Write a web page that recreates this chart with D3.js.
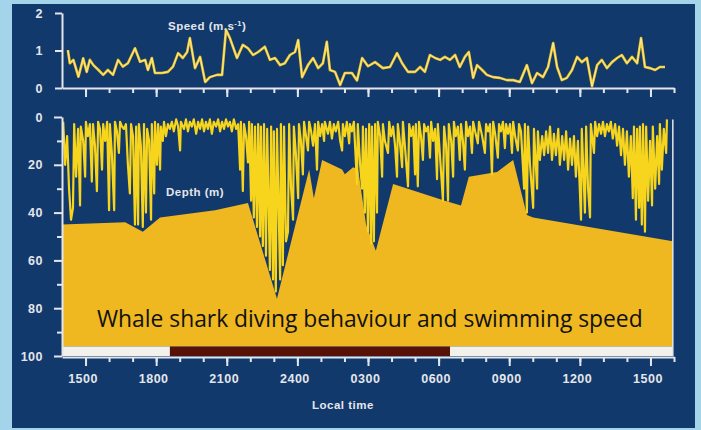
<!DOCTYPE html>
<html lang="en">

<head>
    <meta charset="UTF-8">
    <title>Whale shark diving behaviour and swimming speed</title>
    <style>
        body {
            margin: 0;
            background: #a4d4e9;
        }

        .axis path,
        .axis line {
            stroke-width: 2;
        }

        .lbl {
            font-family: "Liberation Sans", Arial, sans-serif;
            font-weight: bold;
            font-size: 11.5px;
            letter-spacing: 0.5px;
            fill: #e4e6ec;
        }
    </style>
</head>

<body>
    <svg width="701" height="430" id="svg"></svg>
    <script src="https://cdn.jsdelivr.net/npm/d3@7"></script>
    <script>
        // time is kept in minutes after 14:00 on the first day

        const hourLabels = ["1500", "1800", "2100", "2400", "0300", "0600", "0900", "1200", "1500"]
        const labelMinutes = [60, 240, 420, 600, 780, 960, 1140, 1320, 1500]
        const speedTicks = [0, 1, 2]
        const depthTicks = [0, 20, 40, 60, 80, 100]
        const depthMinor = [10, 30, 50, 70, 90]
        const night = [275, 989]   // dark bar, ~18:35 to ~06:30
        const recordEnd = 1557

        // swimming speed, [minute, m/s]
        const speed = [
            [15, 1.01], [20, 0.66], [29, 0.75], [42, 0.30], [54, 0.79], [63, 0.43], [71, 0.75], [80, 0.61],
            [93, 0.48], [105, 0.35], [117, 0.48], [130, 0.35], [143, 0.75], [155, 0.57], [168, 0.66], [186, 1.06],
            [199, 0.70], [212, 0.75], [219, 0.48], [229, 0.80], [237, 0.40], [255, 0.40], [270, 0.43], [283, 0.57],
            [296, 0.93], [308, 0.80], [319, 0.96], [326, 1.33], [339, 0.53], [352, 0.83], [365, 0.16], [377, 0.29],
            [395, 0.35], [408, 0.35], [418, 1.55], [428, 1.33], [446, 0.80], [461, 1.15], [474, 1.06], [487, 0.88],
            [500, 0.96], [517, 1.10], [530, 0.75], [543, 0.80], [556, 0.61], [568, 0.66], [581, 0.88], [594, 0.96],
            [602, 1.28], [612, 0.29], [627, 0.61], [640, 0.80], [653, 0.53], [665, 0.66], [675, 1.23], [683, 0.48],
            [696, 0.43], [709, 0.08], [721, 0.40], [739, 0.40], [752, 0.20], [765, 0.80], [780, 0.58], [798, 0.69],
            [818, 0.53], [836, 0.56], [854, 0.93], [867, 0.66], [882, 0.43], [900, 0.43], [913, 0.56], [925, 0.43],
            [938, 0.88], [951, 0.80], [964, 0.75], [976, 0.83], [989, 0.75], [1002, 0.88], [1014, 0.56], [1027, 0.83],
            [1037, 0.96], [1048, 0.27], [1058, 0.61], [1071, 0.48], [1083, 0.35], [1099, 0.29], [1116, 0.27], [1134, 0.21],
            [1150, 0.21], [1167, 0.16], [1185, 0.61], [1198, 0.13], [1211, 0.40], [1226, 0.29], [1239, 0.56], [1252, 1.20],
            [1262, 0.56], [1274, 0.21], [1287, 0.27], [1300, 0.48], [1313, 0.83], [1325, 0.69], [1338, 0.80], [1351, 0.05],
            [1364, 0.61], [1376, 0.75], [1389, 0.53], [1402, 0.69], [1415, 0.80], [1427, 0.88], [1440, 0.66], [1453, 0.83],
            [1466, 0.66], [1476, 1.33], [1486, 0.56], [1499, 0.53], [1512, 0.48], [1524, 0.56], [1537, 0.56]
        ]

        // dive trace, [minute, depth m]
        const dives = [
            [3, 2], [8, 20], [13, 8], [18, 30], [23, 43], [28, 38], [31, 3], [36, 25], [41, 5], [46, 37], [48, 4], [54, 10],
            [59, 25], [61, 2], [66, 8], [71, 3], [76, 27], [79, 3], [84, 12], [89, 31], [92, 2], [97, 5], [102, 22], [105, 3],
            [110, 10], [115, 2], [120, 39], [122, 3], [127, 15], [133, 39], [135, 2], [140, 6], [145, 15], [148, 2], [153, 4],
            [158, 5], [163, 3], [168, 20], [173, 32], [176, 3], [181, 8], [186, 45], [189, 4], [194, 45], [196, 3], [201, 12],
            [206, 46], [209, 3], [214, 40], [217, 5], [222, 10], [227, 43], [229, 3], [235, 32], [237, 2], [242, 20], [245, 3],
            [250, 22], [252, 4], [257, 10], [260, 2], [265, 8], [270, 3],
            [275, 5], [280, 2], [285, 6], [291, 1], [296, 4], [301, 14], [303, 2], [311, 5], [316, 1], [321, 6], [326, 2],
            [331, 4], [336, 1], [342, 7], [347, 2], [352, 5], [357, 1], [362, 6], [367, 2], [372, 5], [377, 1], [382, 7],
            [387, 2], [393, 4], [398, 1], [403, 6], [408, 2], [413, 5], [418, 1], [423, 4], [428, 2], [433, 6], [438, 1], [444, 5],
            [449, 3], [454, 22], [456, 2], [461, 31], [464, 3], [469, 8], [474, 19], [477, 2], [482, 35], [484, 3], [489, 42],
            [492, 4], [497, 46], [500, 3], [505, 50], [507, 4], [512, 54], [515, 3], [520, 58], [523, 5], [530, 64], [533, 4],
            [538, 68], [540, 6], [545, 73], [548, 5], [556, 68], [558, 3], [563, 62], [566, 4], [571, 52], [576, 48], [579, 3],
            [584, 30], [589, 43], [591, 4], [596, 15], [602, 34], [604, 3], [609, 10], [614, 24], [617, 2], [622, 8], [627, 14],
            [630, 2], [635, 6], [640, 12], [645, 3], [650, 22], [653, 2], [658, 8],
            [663, 3], [668, 10], [670, 2], [678, 7], [683, 2], [688, 9], [693, 3], [698, 6], [704, 2], [709, 10], [714, 14],
            [716, 3], [721, 8], [726, 2], [732, 11], [734, 3], [739, 6], [744, 2], [752, 28], [754, 3], [760, 20], [765, 30],
            [767, 4], [772, 40], [775, 5], [780, 48], [783, 3], [788, 53], [790, 4], [795, 52], [798, 3], [803, 40], [805, 2],
            [811, 8], [816, 25], [818, 3], [823, 10], [831, 15], [834, 2], [839, 8], [844, 4], [849, 12], [854, 25], [856, 3],
            [861, 10], [867, 21], [869, 2], [874, 12], [882, 29], [885, 3], [890, 8], [895, 4], [900, 24], [902, 3], [907, 29],
            [910, 2], [915, 8], [920, 18], [923, 3], [928, 6], [933, 4], [938, 17], [941, 2], [946, 10], [951, 5], [956, 26],
            [958, 3], [963, 15], [971, 35], [974, 4], [979, 12], [984, 35], [986, 3], [992, 10], [997, 25], [999, 2], [1004, 8],
            [1009, 4], [1014, 18], [1017, 3], [1022, 10], [1027, 22], [1030, 2], [1035, 8], [1040, 4], [1045, 15], [1048, 2],
            [1053, 6], [1060, 11], [1063, 2], [1071, 8], [1078, 15], [1081, 3], [1086, 6], [1091, 3], [1096, 24], [1099, 2],
            [1104, 7], [1111, 17], [1114, 3], [1119, 6], [1124, 2], [1129, 13], [1132, 3], [1137, 7], [1142, 3], [1147, 15],
            [1150, 2], [1155, 8], [1162, 14], [1165, 3], [1170, 6],
            [1178, 30], [1180, 3], [1185, 40], [1188, 4], [1193, 20], [1201, 38], [1203, 5], [1211, 30], [1213, 6], [1218, 18],
            [1224, 8], [1229, 16], [1234, 6], [1239, 15], [1244, 4], [1249, 18], [1254, 7], [1259, 16], [1265, 5], [1269, 20],
            [1275, 8], [1280, 18], [1285, 6], [1290, 22], [1295, 9], [1300, 20], [1305, 8], [1310, 25], [1315, 10], [1323, 43],
            [1325, 5], [1333, 40], [1336, 4], [1341, 30], [1346, 42], [1348, 3], [1356, 15], [1359, 2], [1364, 8], [1369, 3],
            [1374, 7], [1379, 2], [1384, 8], [1389, 3], [1394, 6], [1399, 2], [1404, 9], [1410, 3], [1415, 12], [1420, 4],
            [1425, 16], [1430, 5], [1435, 20], [1440, 6], [1445, 25], [1450, 8], [1455, 34], [1458, 4], [1463, 43], [1466, 5],
            [1471, 38], [1473, 4], [1478, 45], [1481, 3], [1486, 48], [1489, 4], [1494, 35], [1499, 10], [1504, 37], [1506, 4],
            [1512, 30], [1517, 8], [1522, 28], [1524, 3], [1529, 22], [1534, 5], [1540, 15], [1542, 1]
        ]

        // sea floor under the shark, [minute, depth m]
        const seabed = [
            [0, 45], [161, 44], [206, 48], [250, 42], [390, 39], [474, 36], [548, 76], [630, 22], [642, 34], [663, 18],
            [714, 22], [721, 24], [742, 21], [755, 22], [775, 45], [800, 56], [844, 28], [976, 35], [1017, 37], [1037, 25],
            [1109, 23], [1150, 18], [1185, 41], [1201, 42], [recordEnd, 52]
        ]

        const svg = d3.select("svg#svg")
        const ink = "#e4e6ec"

        // frame
        svg.append("rect").attr("width", 701).attr("height", 430).attr("fill", "#a4d4e9")
        svg.append("rect").attr("x", 12).attr("y", 4).attr("width", 683).attr("height", 424).attr("fill", "#12396b")

        const x = d3.scaleLinear().domain([0, 1560]).range([62, 674])
        const ySpeed = d3.scaleLinear().domain([0, 2]).range([88, 13])
        const yDepth = d3.scaleLinear().domain([0, 100]).range([117, 356])

        // sea floor
        const floorArea = d3.area().x(d => x(d[0])).y0(yDepth(96)).y1(d => yDepth(d[1]))
        svg.append("path").datum(seabed).attr("fill", "#efb720").attr("d", floorArea)

        // day / night bar
        svg.append("rect").attr("x", x(0)).attr("y", yDepth(96)).attr("width", x(recordEnd) - x(0))
            .attr("height", yDepth(100) - yDepth(96)).attr("fill", "#f3f1ec")
        svg.append("rect").attr("x", x(night[0])).attr("y", yDepth(96)).attr("width", x(night[1]) - x(night[0]))
            .attr("height", yDepth(100) - yDepth(96)).attr("fill", "#571207")
        svg.append("line").attr("x1", x(recordEnd)).attr("x2", x(recordEnd))
            .attr("y1", yDepth(1)).attr("y2", yDepth(100)).attr("stroke", ink).attr("stroke-width", 1.5)

        // dive trace
        const diveLine = d3.line().x(d => x(d[0])).y(d => yDepth(d[1]))
        svg.append("path").datum(dives).attr("fill", "none").attr("stroke", "#f7d51c")
            .attr("stroke-width", 2.2).attr("stroke-linejoin", "round").attr("d", diveLine)

        // speed trace, yellow with a pale core
        const speedLine = d3.line().x(d => x(d[0])).y(d => ySpeed(d[1]))
        svg.append("path").datum(speed).attr("fill", "none").attr("stroke", "#eec527")
            .attr("stroke-width", 2.6).attr("stroke-linejoin", "round").attr("d", speedLine)
        svg.append("path").datum(speed).attr("fill", "none").attr("stroke", "#fff3b8")
            .attr("stroke-width", 0.8).attr("stroke-linejoin", "round").attr("d", speedLine)

        // axes
        function styleAxis(g) {
            g.attr("class", "axis").attr("color", ink)
                .attr("font-family", "'Liberation Sans', Arial, sans-serif")
                .attr("font-weight", "bold").attr("font-size", 12.5)
                .attr("letter-spacing", "0.5px")
        }

        function timeAxis(yPos, withLabels) {
            const hours = d3.range(60, 1561, 60)
            const g = svg.append("g").attr("transform", `translate(0,${yPos})`)
            g.append("g").call(d3.axisBottom(x).tickValues(hours).tickSize(5).tickSizeOuter(0).tickFormat(""))
                .call(styleAxis)
            const major = g.append("g").call(d3.axisBottom(x).tickValues(labelMinutes).tickSize(9).tickPadding(8)
                .tickFormat((d, i) => withLabels ? hourLabels[i] : ""))
                .call(styleAxis)
            major.select(".domain").remove()
            major.selectAll("text").attr("dx", -3)
        }
        timeAxis(88, false)
        timeAxis(357, true)

        svg.append("g").attr("transform", "translate(62,0)")
            .call(d3.axisLeft(ySpeed).tickValues(speedTicks).tickSize(7).tickPadding(12).tickSizeOuter(0)
                .tickFormat(d3.format("d")))
            .call(styleAxis)

        svg.append("g").attr("transform", "translate(62,0)")
            .call(d3.axisLeft(yDepth).tickValues(depthTicks).tickSize(8).tickPadding(11).tickSizeOuter(0)
                .tickFormat(d3.format("d")))
            .call(styleAxis)
        svg.append("g").attr("transform", "translate(62,0)")
            .call(d3.axisLeft(yDepth).tickValues(depthMinor).tickSize(5).tickFormat(""))
            .call(styleAxis)
            .select(".domain").remove()

        // panel labels
        const sp = svg.append("text").attr("class", "lbl").attr("x", 168).attr("y", 30).text("Speed (m.s")
        sp.append("tspan").attr("dy", -4).attr("font-size", 7.5).text("-1")
        sp.append("tspan").attr("dy", 4).text(")")
        svg.append("text").attr("class", "lbl").attr("x", 166).attr("y", 196).text("Depth (m)")
        svg.append("text").attr("class", "lbl").attr("x", 312).attr("y", 409).text("Local time")

        // overlay caption, sized to span the same width as the original
        const cap = svg.append("text").attr("x", 97).attr("y", 327)
            .attr("font-family", "'Open Sans', 'Noto Sans', sans-serif").attr("font-size", 22)
            .attr("fill", "#111").text("Whale shark diving behaviour and swimming speed")
        const w = cap.node().getComputedTextLength()
        cap.attr("font-size", 22 * 546 / w)
    </script>
</body>

</html>
